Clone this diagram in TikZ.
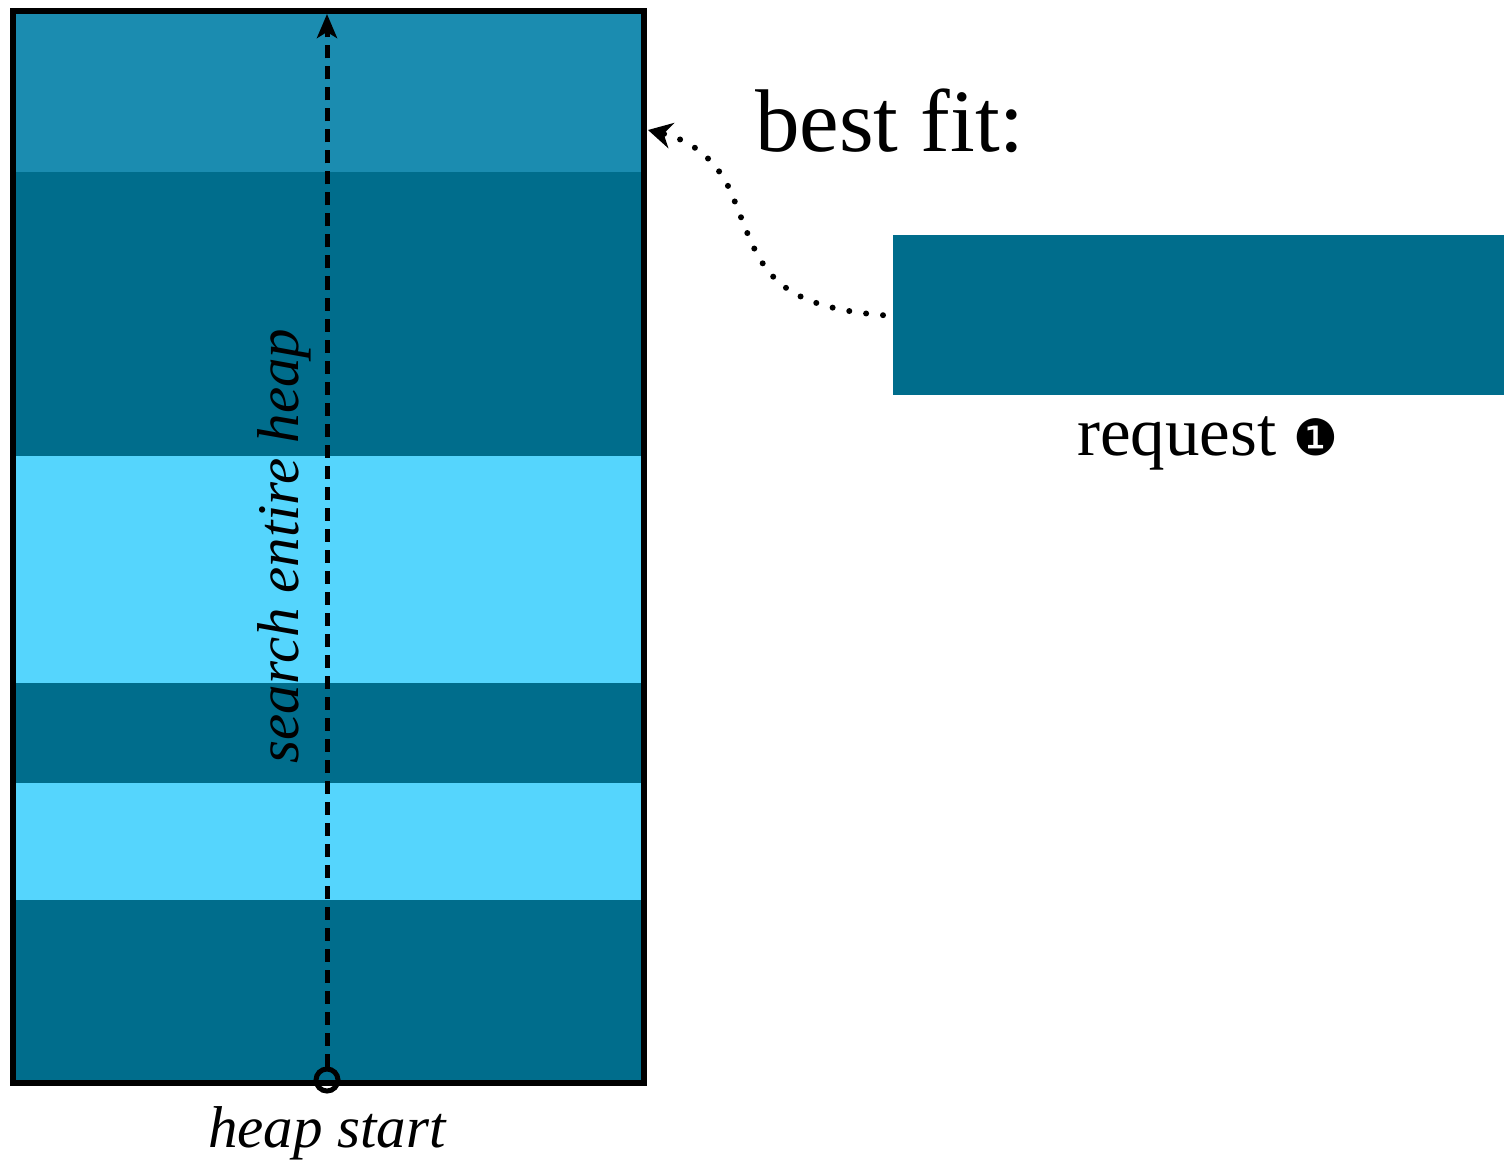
\documentclass[tikz,border=0pt]{standalone}
\usepackage{fontspec}
\setmainfont{Liberation Serif}
\newfontfamily\symfont{DejaVu Sans}
\usetikzlibrary{arrows.meta}
\definecolor{bandmid}{HTML}{1B8CB0}
\definecolor{banddark}{HTML}{006D8C}
\definecolor{bandlight}{HTML}{55D5FD}
\tikzset{
  heapframe/.style={draw=black, line width=6pt},
  searcharrow/.style={line width=5pt, dash pattern=on 13pt off 8pt, -{Stealth[length=24pt,width=20pt,inset=6pt]}},
  fitarrow/.style={line width=6pt, line cap=round, dash pattern=on 0pt off 17pt, -{Stealth[length=24pt,width=26pt,inset=8pt,line cap=butt]}},
  bigtext/.style={font=\fontsize{89}{100}\selectfont, inner sep=0pt},
  midtext/.style={font=\fontsize{69}{80}\selectfont, inner sep=0pt},
  ittext/.style={font=\fontsize{59}{70}\selectfont\itshape, inner sep=0pt},
}
\begin{document}
\begin{tikzpicture}[x=1pt,y=-1pt]
\useasboundingbox (0,0) rectangle (1504,1166);
% bands
\fill[bandmid]   (10,8)   rectangle (641,172);
\fill[banddark]  (10,172) rectangle (641,456);
\fill[bandlight] (10,456) rectangle (641,683);
\fill[banddark]  (10,683) rectangle (641,783);
\fill[bandlight] (10,783) rectangle (641,900);
\fill[banddark]  (10,900) rectangle (641,1080);
\node[heapframe, minimum width=631pt, minimum height=1072pt, inner sep=0pt, anchor=north west] (heap) at (10,8) {};
% start marker and search arrow
\coordinate (top) at (327,14);
\node[draw=black, line width=5pt, circle, minimum size=22pt, inner sep=0pt] (start) at (327,1080) {};
\draw[searcharrow] (start.north) -- (top);
\node[ittext, rotate=90, anchor=base] (search) at (298,546) {search entire heap};
\node[ittext, anchor=base] (hs) at (327,1147) {heap start};
% request
\node[fill=banddark, minimum width=611pt, minimum height=160pt, inner sep=0pt, anchor=north west] (req) at (893,235) {};
\node[midtext, anchor=base] (reqlabel) at (1208,455) {request {\symfont\fontsize{50}{50}\selectfont ❶}};
\node[bigtext, anchor=base west] (best) at (755,152) {best fit:};
\coordinate (fitend) at (648,130);
\draw[fitarrow] ([xshift=-10pt]req.west) .. controls (760,305) and (760,260) .. (730,190) .. controls (715,158) and (690,140) .. (fitend);
\end{tikzpicture}
\end{document}
